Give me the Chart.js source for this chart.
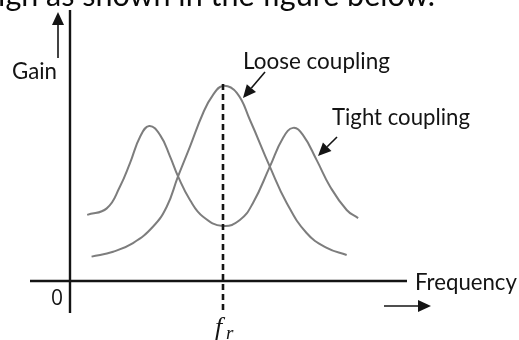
<!DOCTYPE html>
<html>
<head>
<meta charset="utf-8">
<script src="https://cdn.jsdelivr.net/npm/chart.js@4.4.1/dist/chart.umd.min.js"></script>
<style>
  html, body { margin: 0; padding: 0; background: #fff; }
  canvas { display: block; }
</style>
</head>
<body>
<canvas id="gain-chart" width="519" height="340"></canvas>
<script>
'use strict';

/* ── Response curves (frequency, gain), both axes 0..100 ── */
const looseFreq = [6.4, 12.8, 18.7, 24.6, 28.7, 32.0, 35.6, 39.5, 42.4, 45.4, 49.5, 53.4, 59.3, 64.3, 70.2, 76.2, 82.1];
const looseGain = [9.0, 10.8, 14.0, 20.0, 27.4, 38.4, 49.6, 62.0, 68.6, 72.0, 69.4, 59.4, 42.2, 28.8, 17.7, 12.2, 9.6];

const tightFreq = [5.1, 10.9, 14.8, 17.8, 20.8, 23.5, 26.7, 29.7, 32.1, 35.6, 39.5, 45.4, 50.4, 54.3, 59.3, 63.2, 66.2, 69.1, 73.2, 77.2, 82.1, 85.5];
const tightGain = [24.4, 26.8, 34.8, 43.5, 53.2, 57.2, 53.9, 45.9, 38.5, 29.9, 23.7, 20.3, 22.5, 28.8, 42.2, 52.8, 56.5, 53.9, 44.6, 34.8, 26.2, 23.2];

const resonantFreq = 45.4;

const captionText = 'high as shown in the figure below.';
const yAxisTitle  = 'Gain';
const xAxisTitle  = 'Frequency';
const originLabel = '0';
const looseLabel  = 'Loose coupling';
const tightLabel  = 'Tight coupling';

const toPoints = (xs, ys) => xs.map((x, i) => ({ x, y: ys[i] }));

const FONT = 'Lato, "Open Sans", "DejaVu Sans", sans-serif';
const INK  = '#141414';

// font size that makes `text` span `width` pixels
function fitFont(ctx, text, width, family) {
    ctx.font = `100px ${family}`;
    return 100 * width / ctx.measureText(text).width;
}

function arrow(ctx, x1, y1, x2, y2, head, half) {
    const a = Math.atan2(y2 - y1, x2 - x1);
    const bx = x2 - head * Math.cos(a), by = y2 - head * Math.sin(a);
    ctx.beginPath();
    ctx.moveTo(x1, y1);
    ctx.lineTo(bx, by);
    ctx.stroke();
    ctx.beginPath();
    ctx.moveTo(x2, y2);
    ctx.lineTo(bx + half * Math.sin(a), by - half * Math.cos(a));
    ctx.lineTo(bx - half * Math.sin(a), by + half * Math.cos(a));
    ctx.closePath();
    ctx.fill();
}

function label(ctx, text, left, midY, width) {
    const size = fitFont(ctx, text, width, FONT);
    ctx.font = `${size}px ${FONT}`;
    ctx.textAlign = 'left';
    ctx.textBaseline = 'middle';
    ctx.fillText(text, left, midY);
}

/* axes, arrows and annotations drawn around the plot */
const schematic = {
    id: 'schematic',
    beforeDraw(chart) {
        const ctx = chart.ctx;
        ctx.save();
        ctx.fillStyle = '#fff';
        ctx.fillRect(0, 0, chart.width, chart.height);
        ctx.restore();
    },
    afterDraw(chart) {
        const { ctx, scales: { x, y } } = chart;
        const x0 = x.getPixelForValue(0), y0 = y.getPixelForValue(0);
        const xEnd = x.getPixelForValue(100), yTop = y.getPixelForValue(100);
        const xr = x.getPixelForValue(resonantFreq);

        ctx.save();
        ctx.strokeStyle = INK;
        ctx.fillStyle = INK;

        // axes
        ctx.lineWidth = 2.4;
        ctx.beginPath();
        ctx.moveTo(x0, yTop);
        ctx.lineTo(x0, y0 + 32);
        ctx.moveTo(x0 - 40, y0);
        ctx.lineTo(xEnd, y0);
        ctx.stroke();

        // resonance marker
        ctx.lineWidth = 2.6;
        ctx.setLineDash([6, 4]);
        ctx.beginPath();
        ctx.moveTo(xr, y.getPixelForValue(72) - 2);
        ctx.lineTo(xr, y0 + 32);
        ctx.stroke();
        ctx.setLineDash([]);

        // direction arrows
        ctx.lineWidth = 1.6;
        arrow(ctx, x0 - 12, 58, x0 - 12, 12, 13, 6);
        arrow(ctx, 384, 306, 431, 306, 13, 6);
        arrow(ctx, 265, 72, 243, 98, 13, 6);
        arrow(ctx, 337, 137, 318, 156, 13, 6);

        // text
        label(ctx, yAxisTitle, 12, 72, 45);
        label(ctx, xAxisTitle, 415, 283, 102);
        label(ctx, looseLabel, 243, 62, 147);
        label(ctx, tightLabel, 332, 118, 138);
        ctx.font = '21px "Open Sans", "DejaVu Sans", sans-serif';
        ctx.textAlign = 'center';
        ctx.textBaseline = 'middle';
        ctx.fillText(originLabel, 57, 299);

        // f_r
        ctx.textAlign = 'left';
        ctx.textBaseline = 'alphabetic';
        ctx.font = 'italic 26px "Liberation Serif", "DejaVu Serif", serif';
        ctx.fillText('f', xr - 8, 335);
        ctx.font = 'italic 19px "Liberation Serif", "DejaVu Serif", serif';
        ctx.fillText('r', xr + 3, 339);

        // running text above the figure
        ctx.fillStyle = '#0a0a0a';
        const size = fitFont(ctx, captionText.slice(1), 437, FONT);
        ctx.font = `${size}px ${FONT}`;
        ctx.textAlign = 'right';
        ctx.fillText(captionText, 435, 6);
        ctx.restore();
    }
};

const curve = (data) => ({
    data,
    showLine: true,
    borderColor: '#7d7d7d',
    borderWidth: 2,
    pointRadius: 0,
    tension: 0.45,
    fill: false
});

new Chart(document.getElementById('gain-chart'), {
    type: 'scatter',
    data: {
        datasets: [
            curve(toPoints(looseFreq, looseGain)),
            curve(toPoints(tightFreq, tightGain))
        ]
    },
    options: {
        responsive: false,
        animation: false,
        layout: { padding: { left: 70, right: 112, top: 10, bottom: 59 } },
        plugins: { legend: { display: false }, tooltip: { enabled: false } },
        scales: {
            x: { type: 'linear', min: 0, max: 100, display: false },
            y: { type: 'linear', min: 0, max: 100, display: false }
        }
    },
    plugins: [schematic]
});
</script>
</body>
</html>
